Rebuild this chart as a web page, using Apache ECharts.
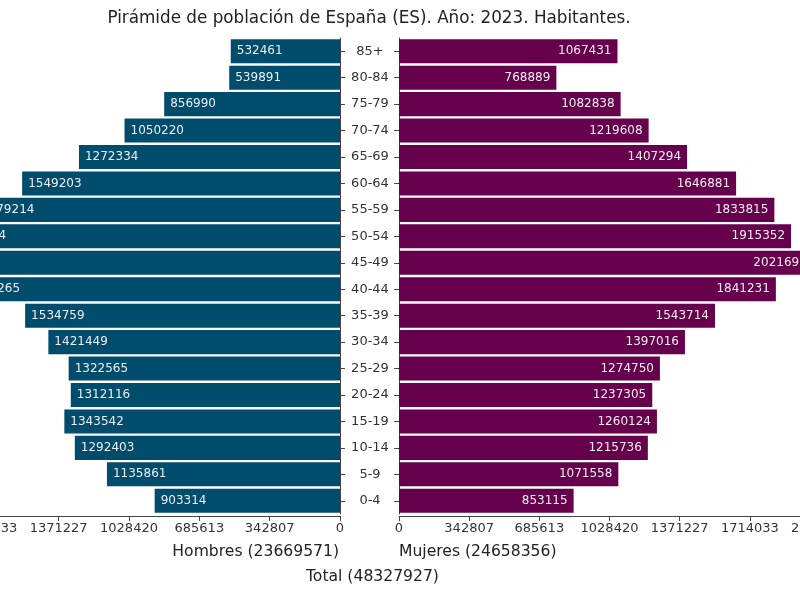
<!DOCTYPE html>
<html>
<head>
<meta charset="utf-8">
<script src="https://cdn.jsdelivr.net/npm/echarts@6/dist/echarts.min.js"></script>
<style>html,body{margin:0;padding:0;background:#fff}#c{width:800px;height:600px}</style>
</head>
<body>
<div id="c"></div>
<script>
const categories = ['0-4','5-9','10-14','15-19','20-24','25-29','30-34','35-39','40-44','45-49','50-54','55-59','60-64','65-69','70-74','75-79','80-84','85+'];
const hombres = [903314,1135861,1292403,1343542,1312116,1322565,1421449,1534759,1849265,2056840,1917144,1779214,1549203,1272334,1050220,856990,539891,532461];
const mujeres = [853115,1071558,1215736,1260124,1237305,1274750,1397016,1543714,1841231,2021699,1915352,1833815,1646881,1407294,1219608,1082838,768889,1067431];
const axisMax = 2056840;
const tickCount = 6;
const titleText = 'Pirámide de población de España (ES). Año: 2023. Habitantes.';
const totalH = hombres.reduce((a,b)=>a+b,0);
const totalM = mujeres.reduce((a,b)=>a+b,0);

const chart = echarts.init(document.getElementById('c'), null, {renderer:'canvas'});
const font = 'DejaVu Sans';
const xAxisCommon = {
  type:'value', min:0, max:axisMax, interval:axisMax/tickCount, offset:2,
  axisLine:{show:true, lineStyle:{color:'#444'}},
  axisTick:{show:true, length:5, lineStyle:{color:'#444'}},
  splitLine:{show:false},
  axisLabel:{color:'#333', fontSize:13, fontFamily:font, margin:6, hideOverlap:false, formatter:v=>String(Math.round(v))}
};
chart.setOption({
  animation:false,
  textStyle:{fontFamily:font},
  grid:[
    {left:-82, width:422, top:38, height:476, outerBoundsMode:'none', containLabel:false},
    {left:399, width:421, top:38, height:476, outerBoundsMode:'none', containLabel:false}
  ],
  xAxis:[
    Object.assign({gridIndex:0, inverse:true}, xAxisCommon),
    Object.assign({gridIndex:1}, xAxisCommon)
  ],
  yAxis:[
    {type:'category', gridIndex:0, position:'right', data:categories,
     axisLine:{show:true, lineStyle:{color:'#444'}},
     axisTick:{show:true, length:5, alignWithLabel:true, lineStyle:{color:'#444'}},
     axisLabel:{color:'#333', fontSize:13, fontFamily:font, align:'center', margin:30}},
    {type:'category', gridIndex:1, position:'left', data:categories,
     axisLine:{show:true, lineStyle:{color:'#444'}},
     axisTick:{show:true, length:5, alignWithLabel:true, lineStyle:{color:'#444'}},
     axisLabel:{show:false}}
  ],
  series:[
    {type:'bar', name:'Hombres', xAxisIndex:0, yAxisIndex:0, data:hombres, barCategoryGap:'9%',
     itemStyle:{color:'#004c6d'},
     label:{show:true, position:'insideLeft', distance:6, color:'#eeeeee', fontSize:12, fontFamily:font}},
    {type:'bar', name:'Mujeres', xAxisIndex:1, yAxisIndex:1, data:mujeres, barCategoryGap:'9%',
     itemStyle:{color:'#66004c'},
     label:{show:true, position:'insideRight', distance:6, color:'#eeeeee', fontSize:12, fontFamily:font}}
  ],
  graphic:[
    {type:'text', style:{x:369, y:18.5, text:titleText, fill:'#222', font:'16.8px "DejaVu Sans"', textAlign:'center', textVerticalAlign:'middle'}},
    {type:'text', style:{x:339, y:552, text:'Hombres ('+totalH+')', fill:'#222', font:'15.6px "DejaVu Sans"', textAlign:'right', textVerticalAlign:'middle'}},
    {type:'text', style:{x:399, y:552, text:'Mujeres ('+totalM+')', fill:'#222', font:'15.6px "DejaVu Sans"', textAlign:'left', textVerticalAlign:'middle'}},
    {type:'text', style:{x:306, y:577, text:'Total ('+(totalH+totalM)+')', fill:'#222', font:'15.6px "DejaVu Sans"', textAlign:'left', textVerticalAlign:'middle'}}
  ]
});
</script>
</body>
</html>
